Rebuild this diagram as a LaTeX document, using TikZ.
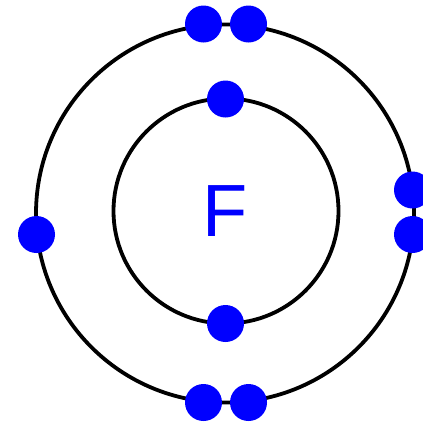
\documentclass[tikz,border=0pt]{standalone}
\usepackage{fontspec}
\setmainfont{Liberation Sans}
\usetikzlibrary{positioning}

\tikzset{
    electron/.style={circle, fill=blue, minimum size=37pt, inner sep=0pt},
    shell/.style={draw=black, line width=3.8pt}
}

\begin{document}
\begin{tikzpicture}[x=1pt, y=-1pt]
    % Page frame
    \useasboundingbox (0,0) rectangle (423,426);
    \clip (0,0) rectangle (423,426);

    % Shells
    \draw[shell] (225,213.5) circle (189);
    \draw[shell] (226,211) circle (112.5);

    % Nucleus symbol
    \node[text=blue, font=\fontsize{74}{74}\selectfont, inner sep=0pt] (nucleus) at (225,211.5) {F};

    % Inner shell electrons
    \node[electron] (in1) at (225.5,99) {};
    \node[electron] (in2) at (225.5,323.5) {};

    % Outer shell electrons
    \node[electron] (top1) at (203.5,24) {};
    \node[electron] (top2) at (248.5,24) {};
    \node[electron] (bot1) at (203.5,402.5) {};
    \node[electron] (bot2) at (248.5,402.5) {};
    \node[electron] (left) at (36.5,234.5) {};
    \node[electron] (right1) at (412.5,190) {};
    \node[electron] (right2) at (412.5,234.5) {};
\end{tikzpicture}
\end{document}
